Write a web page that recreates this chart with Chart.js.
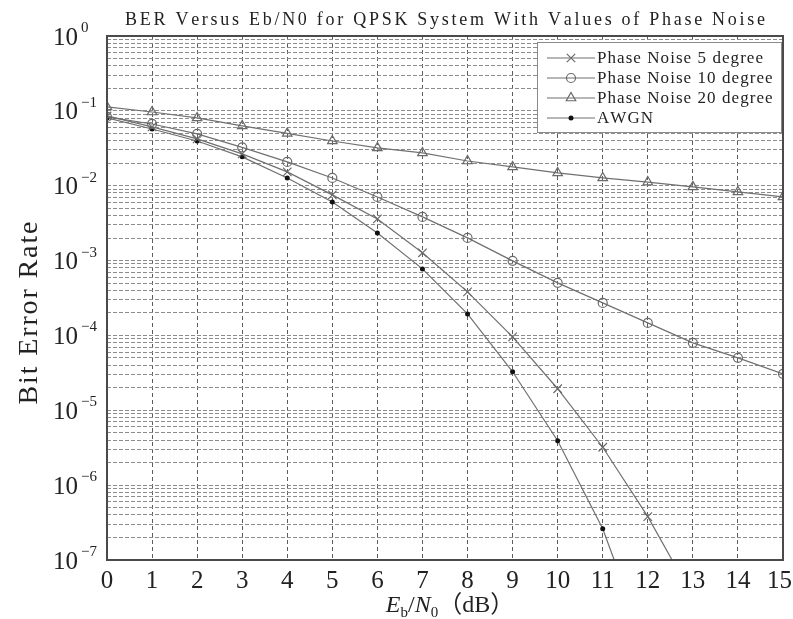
<!DOCTYPE html>
<html>
<head>
<meta charset="utf-8">
<script src="https://cdn.jsdelivr.net/npm/chart.js@4.4.1/dist/chart.umd.min.js"></script>
<style>
html,body{margin:0;padding:0;background:#fff;}
#wrap{width:793px;height:619px;position:relative;}
canvas{display:block;}
</style>
</head>
<body>
<div id="wrap"><canvas id="c" width="793" height="619"></canvas></div>
<script>
// ---- data ----
const ebn0 = [0,1,2,3,4,5,6,7,8,9,10,11,12,13,14,15];
const phaseNoise5  = [0.0855,0.0610,0.0422,0.0266,0.0153,0.00754,0.00360,0.00127,3.82e-4,9.58e-5,1.94e-5,3.21e-6,3.79e-7,3.2e-8];
const phaseNoise10 = [0.0829,0.0668,0.0492,0.0325,0.0208,0.0127,0.00708,0.00383,0.00201,9.91e-4,5.04e-4,2.72e-4,1.47e-4,7.96e-5,5.02e-5,3.07e-5];
const phaseNoise20 = [0.1127,0.0966,0.0804,0.0629,0.0499,0.0396,0.0320,0.0274,0.0214,0.0178,0.0148,0.0127,0.0112,0.00964,0.00826,0.00708];
const awgn         = [0.0804,0.0573,0.0396,0.0243,0.0127,0.00608,0.00234,7.74e-4,1.94e-4,3.27e-5,3.92e-6,2.62e-7,6e-9];
const seriesNames  = ['Phase Noise 5 degree','Phase Noise 10 degree','Phase Noise 20 degree','AWGN'];
const xTickLabels  = ['0','1','2','3','4','5','6','7','8','9','10','11','12','13','14','15'];
const yTickExponents = [0,-1,-2,-3,-4,-5,-6,-7];
const titleText = 'BER Versus Eb/N0 for QPSK System With Values of Phase Noise';
const yTitleText = 'Bit Error Rate';

// ---- helpers ----
const SERIF = '"Liberation Serif","Times New Roman","DejaVu Serif",serif';
function pts(arr){ return arr.map((v,i)=>({x:ebn0[i], y:v})); }
function drawSpaced(ctx, text, x, y, spacing, align){
  const chars = [...text];
  const ws = chars.map(c=>ctx.measureText(c).width);
  const total = ws.reduce((a,b)=>a+b,0) + spacing*(chars.length-1);
  let cx = align==='center' ? x - total/2 : (align==='right' ? x - total : x);
  const saveAlign = ctx.textAlign;
  ctx.textAlign = 'left';
  chars.forEach((c,i)=>{ ctx.fillText(c, cx, y); cx += ws[i] + spacing; });
  ctx.textAlign = saveAlign;
  return total;
}
function fitSpacing(ctx, text, target){
  const n = [...text].length;
  const w = [...text].reduce((a,c)=>a+ctx.measureText(c).width,0);
  return (target - w)/(n-1);
}
function drawMarker(ctx, style, x, y){
  ctx.save();
  ctx.lineWidth = 1.2;
  ctx.strokeStyle = '#6a6a6a';
  ctx.beginPath();
  if(style==='x'){
    const r=4.2;
    ctx.moveTo(x-r,y-r); ctx.lineTo(x+r,y+r);
    ctx.moveTo(x+r,y-r); ctx.lineTo(x-r,y+r);
    ctx.stroke();
  } else if(style==='o'){
    ctx.arc(x,y,4.5,0,Math.PI*2); ctx.stroke();
  } else if(style==='t'){
    const r=5.5;
    ctx.moveTo(x, y-r);
    ctx.lineTo(x+r*0.866, y+r*0.5);
    ctx.lineTo(x-r*0.866, y+r*0.5);
    ctx.closePath(); ctx.stroke();
  } else {
    ctx.fillStyle='#111';
    ctx.arc(x,y,2.5,0,Math.PI*2); ctx.fill();
  }
  ctx.restore();
}

const yGridValues = [];
for(let e=-7;e<0;e++){ for(let m=1;m<10;m++){ yGridValues.push(m*Math.pow(10,e)); } }
yGridValues.push(1);

const LINE = '#707070';

const deco = {
  id:'deco',
  beforeDraw(chart){
    const ctx = chart.ctx;
    ctx.save(); ctx.fillStyle='#fff'; ctx.fillRect(0,0,chart.width,chart.height); ctx.restore();
  },
  afterDraw(chart){
    const ctx = chart.ctx;
    const a = chart.chartArea;
    const xs = chart.scales.x, ys = chart.scales.y;
    ctx.save();
    // frame
    ctx.strokeStyle='#4a4a4a'; ctx.lineWidth=2;
    ctx.strokeRect(a.left, a.top, a.right-a.left, a.bottom-a.top);

    // y tick labels 10^e
    ctx.fillStyle='#222';
    ctx.textBaseline='middle';
    yTickExponents.forEach(e=>{
      const y = ys.getPixelForValue(Math.pow(10,e));
      ctx.font = '25px '+SERIF;
      ctx.textAlign='left';
      ctx.fillText('10', 53, y+2);
      ctx.font = '15px '+SERIF;
      ctx.fillText(e===0 ? '0' : '\u2212'+(-e), 81, y-8);
    });

    // x tick labels
    ctx.font = '25px '+SERIF;
    ctx.textAlign='center';
    xTickLabels.forEach((lab,i)=>{
      let x = xs.getPixelForValue(ebn0[i]);
      const w = ctx.measureText(lab).width;
      if(x + w/2 > 792) x = 792 - w/2;
      ctx.fillText(lab, x, 581);
    });

    // title
    ctx.font = '18px '+SERIF;
    ctx.textBaseline='alphabetic';
    const sp = fitSpacing(ctx, titleText, 640);
    drawSpaced(ctx, titleText, (a.left+a.right)/2, 25, sp, 'center');

    // y title
    ctx.save();
    ctx.translate(37, 313);
    ctx.rotate(-Math.PI/2);
    ctx.font = '28px '+SERIF;
    const sp2 = fitSpacing(ctx, yTitleText, 183);
    drawSpaced(ctx, yTitleText, 0, 0, sp2, 'center');
    ctx.restore();

    // x title: E_b/N_0 (dB)
    const parts = [
      {t:'E', f:'italic 24px '+SERIF, dy:0},
      {t:'b', f:'15px '+SERIF, dy:5},
      {t:'/', f:'24px '+SERIF, dy:0},
      {t:'N', f:'italic 24px '+SERIF, dy:0},
      {t:'0', f:'15px '+SERIF, dy:5},
      {t:'\uFF08dB\uFF09', f:'24px '+SERIF+',"Noto Sans CJK SC"', dy:0}
    ];
    let tw=0; parts.forEach(p=>{ctx.font=p.f; p.w=ctx.measureText(p.t).width; tw+=p.w;});
    let px = 450 - tw/2;
    ctx.textAlign='left';
    parts.forEach(p=>{ctx.font=p.f; ctx.fillText(p.t, px, 612+p.dy); px+=p.w;});

    // legend
    const lx=537, ly=42, lw=244, lh=90;
    ctx.fillStyle='#fff';
    ctx.fillRect(lx,ly,lw,lh);
    ctx.strokeStyle='#8a8a8a'; ctx.lineWidth=1;
    ctx.strokeRect(lx+0.5,ly+0.5,lw,lh);
    const styles=['x','o','t','d'];
    ctx.font='17px '+SERIF;
    const sp3 = fitSpacing(ctx, seriesNames[0], 166);
    seriesNames.forEach((name,i)=>{
      const y = 58 + i*20;
      ctx.strokeStyle=LINE; ctx.lineWidth=1.2;
      ctx.beginPath(); ctx.moveTo(547,y); ctx.lineTo(595,y); ctx.stroke();
      drawMarker(ctx, styles[i], 571, y);
      ctx.fillStyle='#222';
      ctx.textBaseline='middle';
      drawSpaced(ctx, name, 597, y+1, sp3, 'left');
    });
    ctx.restore();
  }
};

new Chart(document.getElementById('c'), {
  type:'line',
  data:{
    datasets:[
      {label:seriesNames[0], data:pts(phaseNoise5), borderColor:LINE, borderWidth:1.2, pointStyle:'crossRot', pointRadius:6, pointBorderColor:'#6a6a6a', pointBorderWidth:1.2, pointBackgroundColor:'rgba(0,0,0,0)', tension:0},
      {label:seriesNames[1], data:pts(phaseNoise10), borderColor:LINE, borderWidth:1.2, pointStyle:'circle', pointRadius:4.5, pointBorderColor:'#6a6a6a', pointBorderWidth:1.2, pointBackgroundColor:'rgba(0,0,0,0)', tension:0},
      {label:seriesNames[2], data:pts(phaseNoise20), borderColor:LINE, borderWidth:1.2, pointStyle:'triangle', pointRadius:5.5, pointBorderColor:'#6a6a6a', pointBorderWidth:1.2, pointBackgroundColor:'rgba(0,0,0,0)', tension:0},
      {label:seriesNames[3], data:pts(awgn), borderColor:LINE, borderWidth:1.2, pointStyle:'circle', pointRadius:2.5, pointBorderColor:'#111', pointBorderWidth:0, pointBackgroundColor:'#111', tension:0}
    ]
  },
  options:{
    responsive:false,
    animation:false,
    devicePixelRatio:1,
    layout:{padding:{left:107,right:10,top:36,bottom:59}, autoPadding:false},
    plugins:{legend:{display:false}, title:{display:false}, tooltip:{enabled:false}},
    scales:{
      x:{
        type:'linear', min:0, max:15,
        afterBuildTicks(scale){ scale.ticks = ebn0.map(v=>({value:v})); },
        ticks:{display:false},
        grid:{color:'#5c5c5c', lineWidth:1, drawTicks:false},
        border:{display:false, dash:[4,3]}
      },
      y:{
        type:'logarithmic', min:1e-7, max:1,
        afterBuildTicks(scale){ scale.ticks = yGridValues.map(v=>({value:v})); },
        ticks:{display:false},
        grid:{color:'#8c8c8c', lineWidth:1, drawTicks:false},
        border:{display:false, dash:[4,2]}
      }
    }
  },
  plugins:[deco]
});
</script>
</body>
</html>
